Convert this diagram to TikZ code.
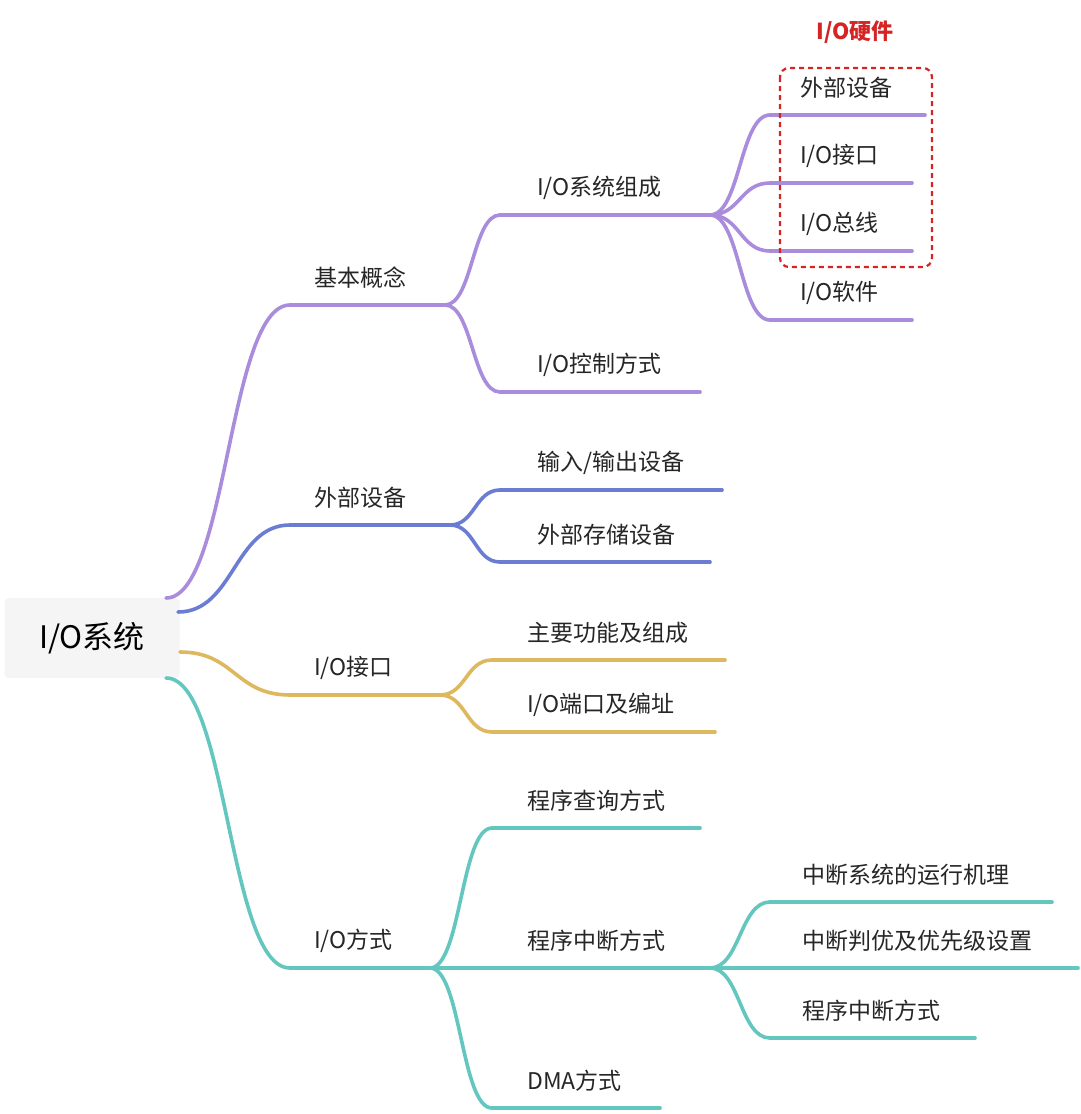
\documentclass[tikz,border=0pt]{standalone}
\usepackage{fontspec}
\setmainfont{Noto Sans CJK SC}
\usetikzlibrary{calc}
\definecolor{cP}{HTML}{A98CDC}
\definecolor{cB}{HTML}{6B7DD2}
\definecolor{cG}{HTML}{DDB85E}
\definecolor{cT}{HTML}{63C7C0}
\definecolor{cR}{HTML}{D42424}
\tikzset{
  br/.style={line width=3.6pt, line cap=round},
  lbl/.style={anchor=west, inner sep=0pt, font=\fontsize{23}{26}\selectfont, text=black!85},
}
% \topic{name}{color}{x1}{x2}{y}{textx}{text}
\newcommand\topic[7]{%
  \coordinate (#1-s) at (#3,#5);
  \coordinate (#1-e) at (#4,#5);
  \draw[br,#2] (#1-s) -- (#1-e);
  \node[lbl] (#1-t) at (#6,#5-27) {#7};
}
\newcommand\conn[3]{%
  \draw[br,#1] let \p1=(#2), \p2=(#3) in (\p1) .. controls ({(\x1+\x2)/2},\y1) and ({(\x1+\x2)/2},\y2) .. (\p2);
}
\begin{document}
\begin{tikzpicture}[x=1pt,y=-1pt]
\useasboundingbox (0,0) rectangle (1080,1114);
\node[fill=black!4, rounded corners=4pt, minimum width=175pt, minimum height=80pt, font=\fontsize{31}{34}\selectfont] (root) at (92,638) {I/O系统};
\coordinate (rP) at (166,598);
\coordinate (rB) at (178,612);
\coordinate (rG) at (180,652);
\coordinate (rT) at (166,678);
% level 1
\topic{a}{cP}{290}{445}{305}{314}{基本概念}
\topic{b}{cB}{290}{450}{525}{314}{外部设备}
\topic{c}{cG}{290}{440}{695}{314}{I/O接口}
\topic{d}{cT}{290}{430}{968}{314}{I/O方式}
\conn{cP}{rP}{a-s}\conn{cB}{rB}{b-s}\conn{cG}{rG}{c-s}\conn{cT}{rT}{d-s}
% level 2
\topic{a1}{cP}{500}{710}{215}{537}{I/O系统组成}
\topic{a2}{cP}{500}{700}{392}{537}{I/O控制方式}
\conn{cP}{a-e}{a1-s}\conn{cP}{a-e}{a2-s}
\topic{b1}{cB}{500}{722}{490}{537}{输入/输出设备}
\topic{b2}{cB}{500}{710}{562}{537}{外部存储设备}
\conn{cB}{b-e}{b1-s}\conn{cB}{b-e}{b2-s}
\topic{c1}{cG}{492}{725}{660}{527}{主要功能及组成}
\topic{c2}{cG}{492}{715}{732}{527}{I/O端口及编址}
\conn{cG}{c-e}{c1-s}\conn{cG}{c-e}{c2-s}
\topic{d1}{cT}{492}{700}{828}{527}{程序查询方式}
\topic{d2}{cT}{430}{710}{968}{527}{程序中断方式}
\topic{d3}{cT}{492}{660}{1108}{527}{DMA方式}
\conn{cT}{d-e}{d1-s}\conn{cT}{d-e}{d3-s}
% level 3
\topic{e1}{cP}{770}{925}{115}{800}{外部设备}
\topic{e2}{cP}{770}{912}{183}{800}{I/O接口}
\topic{e3}{cP}{770}{912}{251}{800}{I/O总线}
\topic{e4}{cP}{770}{912}{320}{800}{I/O软件}
\conn{cP}{a1-e}{e1-s}\conn{cP}{a1-e}{e2-s}\conn{cP}{a1-e}{e3-s}\conn{cP}{a1-e}{e4-s}
\topic{f1}{cT}{770}{1052}{902}{802}{中断系统的运行机理}
\topic{f2}{cT}{710}{1078}{968}{802}{中断判优及优先级设置}
\topic{f3}{cT}{770}{975}{1038}{802}{程序中断方式}
\conn{cT}{d2-e}{f1-s}\conn{cT}{d2-e}{f3-s}
% highlight
\draw[cR, line width=2.2pt, dash pattern=on 5pt off 4pt, rounded corners=9pt] (780,68) rectangle (932,267);
\node[font=\fontsize{22}{26}\selectfont\bfseries, text=cR] (hw) at (855,32) {I/O硬件};
\end{tikzpicture}
\end{document}
